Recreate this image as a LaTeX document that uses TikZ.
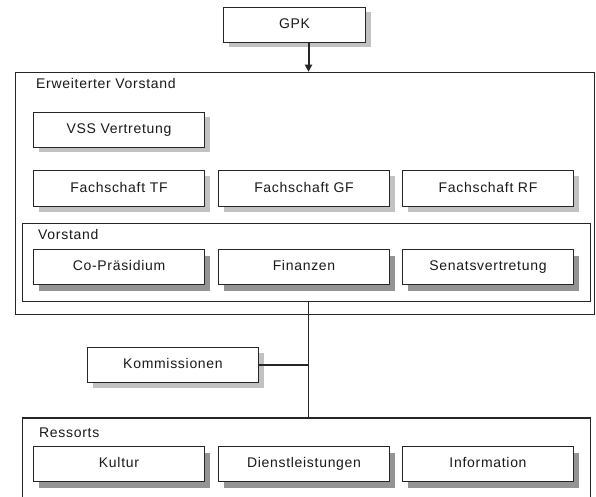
\documentclass[tikz,border=0pt]{standalone}
\usepackage{fontspec}
\setmainfont[LetterSpace=5]{Liberation Sans}
\usetikzlibrary{arrows.meta,shadows}
\definecolor{linecol}{gray}{0.15}
\definecolor{txtcol}{gray}{0.1}
\definecolor{stipple}{gray}{0.76}
\definecolor{solidsh}{gray}{0.58}
\tikzset{
  lbl/.style={font=\fontsize{14pt}{16pt}\selectfont, text=txtcol},
  container/.style={draw=linecol, line width=1.5pt, fill=white, inner sep=0pt},
  unitbox/.style={draw=linecol, line width=1.5pt, fill=white, inner sep=0pt,
    lbl, text height=10pt, text depth=3pt, minimum width=171pt, minimum height=35pt},
  stipbox/.style={unitbox, drop shadow={shadow xshift=5pt, shadow yshift=-5pt,
    fill=stipple, opacity=1}},
  solbox/.style={unitbox, drop shadow={shadow xshift=5pt, shadow yshift=-6pt,
    fill=solidsh, opacity=1}},
  title/.style={lbl, anchor=base west, inner sep=0pt},
  conn/.style={draw=linecol, line width=1.5pt}
}
\begin{document}
\begin{tikzpicture}[x=1pt,y=-1pt]
\useasboundingbox (0,0) rectangle (596,497);
\fill[white] (0,0) rectangle (596,497);
\coordinate (trunk) at (308.5,0);

% top
\node[stipbox, minimum width=142pt] (gpk) at (294.5,25) {GPK};

% Erweiterter Vorstand
\node[container, minimum width=579pt, minimum height=242pt] (erw) at (304.75,193.5) {};
\node[title] (erwt) at (36,89) {Erweiterter Vorstand};
\node[stipbox] (vss) at (119,130) {VSS Vertretung};
\node[stipbox, minimum height=36pt] (tf) at (119,188.5) {Fachschaft TF};
\node[stipbox, minimum height=36pt] (gf) at (304,188.5) {Fachschaft GF};
\node[stipbox, minimum height=36pt] (rf) at (488,188.5) {Fachschaft RF};

% Vorstand
\node[container, minimum width=568pt, minimum height=78pt] (vor) at (306.5,262.5) {};
\node[title] (vort) at (38,239) {Vorstand};
\node[solbox] (cop) at (119,267) {Co-Präsidium};
\node[solbox] (fin) at (304,267) {Finanzen};
\node[solbox] (sen) at (488,267) {Senatsvertretung};

% Kommissionen
\node[stipbox] (kom) at (173,365) {Kommissionen};

% Ressorts
\node[container, minimum width=568pt, minimum height=100pt] (res) at (306.5,468) {};
\node[title] (rest) at (39,437) {Ressorts};
\node[solbox] (kul) at (119,464) {Kultur};
\node[solbox] (die) at (304,464) {Dienstleistungen};
\node[solbox] (inf) at (488,464) {Information};

% connectors
\draw[conn, line width=2pt, -{Triangle[width=7pt,length=7pt]}] (gpk.south -| trunk) -- (erw.north -| trunk);
\draw[conn] (vor.south -| trunk) -- (res.north -| trunk);
\draw[conn] (kom.east) -- (kom.east -| trunk);
\end{tikzpicture}
\end{document}
